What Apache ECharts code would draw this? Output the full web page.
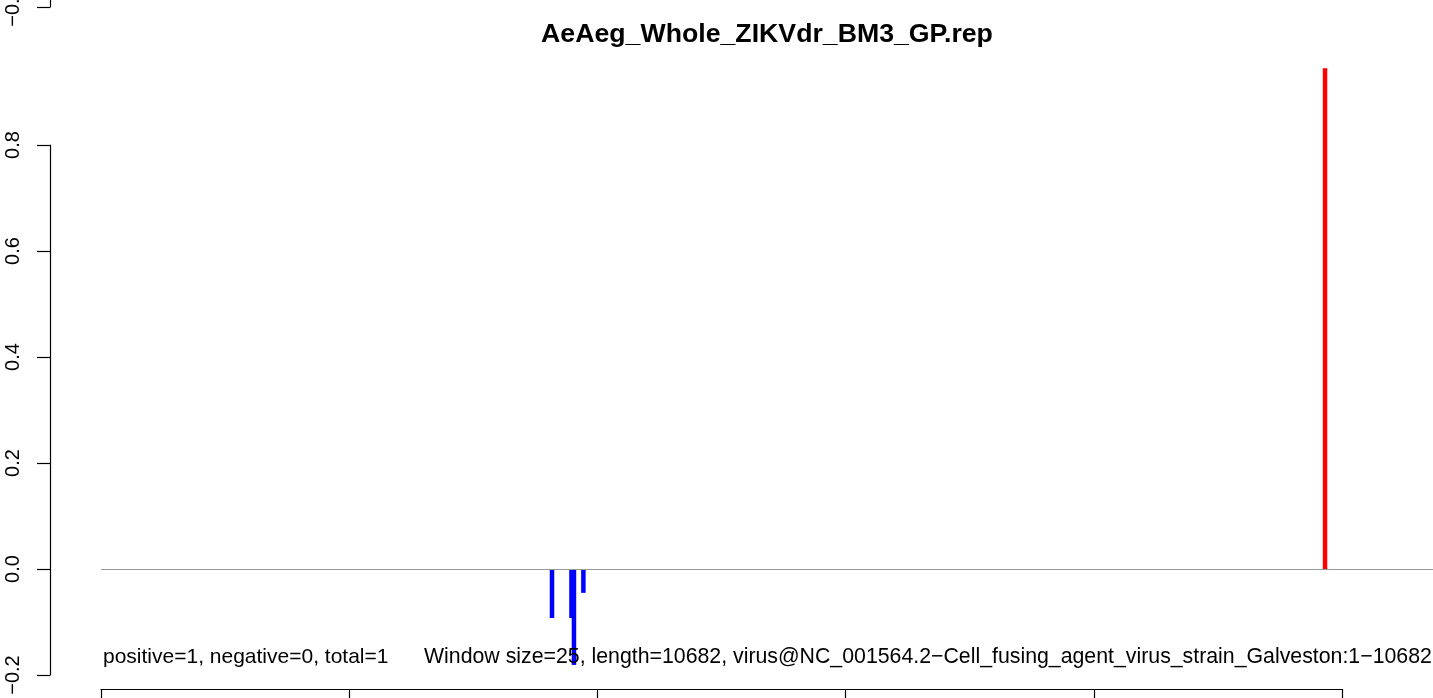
<!DOCTYPE html>
<html>
<head>
<meta charset="utf-8">
<script src="https://cdn.jsdelivr.net/npm/echarts@6/dist/echarts.min.js"></script>
<style>
html,body{margin:0;padding:0;background:#fff;}
#chart{width:1433px;height:698px;}
</style>
</head>
<body>
<div id="chart"></div>
<script>
// ---- data ----
var titleText = 'AeAeg_Whole_ZIKVdr_BM3_GP.rep';
var statsText = 'positive=1, negative=0, total=1';
var infoText = 'Window size=25, length=10682, virus@NC_001564.2\u2212Cell_fusing_agent_virus_strain_Galveston:1\u221210682';
var posX = [9863];
var posY = [0.945];
var negX = [3634, 3791, 3811, 3887];
var negY = [-0.0925, -0.0925, -0.181, -0.045];
var yTicks = [-0.2, 0.0, 0.2, 0.4, 0.6, 0.8];
var xTicks = [0, 2000, 4000, 6000, 8000, 10000];

function fmt(v){
  var s = Math.abs(v).toFixed(1);
  return (v < -1e-9 ? '\u2212' : '') + s;
}
var FONT = 'Liberation Sans, Arial, Helvetica, sans-serif';

var chart = echarts.init(document.getElementById('chart'), null, {renderer:'canvas'});
var option = {
  animation: false,
  backgroundColor: '#ffffff',
  grid: [
    {left: 101, right: 0, top: 145, bottom: 23, outerBoundsMode: 'none', containLabel: false},
    {left: 101, right: 0, top: -100, height: 107, outerBoundsMode: 'none', containLabel: false},
    {left: 101, width: 1241, bottom: 9, height: 1, outerBoundsMode: 'none', containLabel: false}
  ],
  xAxis: [
    {gridIndex: 0, type: 'value', min: 0, max: 10733, show: false},
    {gridIndex: 1, type: 'value', min: 0, max: 10733, show: false},
    {gridIndex: 2, type: 'value', min: xTicks[0], max: xTicks[xTicks.length-1], interval: 2000,
     position: 'bottom',
     axisLine: {show: true, onZero: false, lineStyle: {color: '#000', width: 1.2}},
     axisTick: {show: true, length: 10, lineStyle: {color: '#000', width: 1.2}},
     axisLabel: {show: false}, splitLine: {show: false}}
  ],
  yAxis: [
    {gridIndex: 0, type: 'value', min: yTicks[0], max: yTicks[yTicks.length-1], interval: 0.2,
     position: 'left', offset: 51,
     axisLine: {show: true, onZero: false, lineStyle: {color: '#000', width: 1.2}},
     axisTick: {show: true, length: 13, lineStyle: {color: '#000', width: 1.2}},
     axisLabel: {show: true, rotate: 90, margin: 27, color: '#000', fontSize: 20, fontFamily: FONT, formatter: fmt},
     splitLine: {show: false}},
    {gridIndex: 1, type: 'value', min: -0.2, max: 0, interval: 0.2,
     position: 'left', offset: 51,
     axisLine: {show: true, onZero: false, lineStyle: {color: '#000', width: 1.2}},
     axisTick: {show: true, length: 13, lineStyle: {color: '#000', width: 1.2}},
     axisLabel: {show: true, rotate: 90, margin: 27, color: '#000', fontSize: 20, fontFamily: FONT, formatter: fmt, showMaxLabel: false},
     splitLine: {show: false}},
    {gridIndex: 2, type: 'value', show: false}
  ],
  series: [
    {
      type: 'bar', xAxisIndex: 0, yAxisIndex: 0, clip: false,
      barWidth: 4.5, barGap: '-100%',
      itemStyle: {color: '#ff0000'},
      data: posX.map(function(x,i){return [x, posY[i]];}),
      markLine: {
        silent: true, symbol: ['none','none'],
        label: {show: false},
        lineStyle: {color: '#999999', width: 1, type: 'solid'},
        data: [{yAxis: 0}]
      }
    },
    {
      type: 'bar', xAxisIndex: 0, yAxisIndex: 0, clip: false,
      barWidth: 4.5, barGap: '-100%',
      itemStyle: {color: '#0000ff'},
      data: negX.map(function(x,i){return [x, negY[i]];})
    }
  ],
  graphic: [
    {type: 'text', x: 767, y: 35, style: {text: titleText, font: 'bold 26.7px ' + FONT, fill: '#000', align: 'center', verticalAlign: 'middle'}},
    {type: 'text', x: 103, y: 657, style: {text: statsText, font: '21px ' + FONT, fill: '#000', align: 'left', verticalAlign: 'middle'}},
    {type: 'text', x: 424, y: 657, z: 100, style: {text: infoText, font: '21.3px ' + FONT, fill: '#000', align: 'left', verticalAlign: 'middle'}}
  ]
};
chart.setOption(option);
</script>
</body>
</html>
